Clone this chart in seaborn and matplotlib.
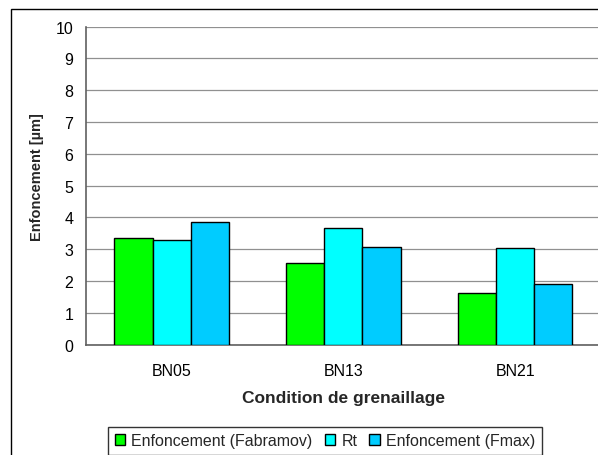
import matplotlib
matplotlib.use("Agg")
import matplotlib.pyplot as plt
from matplotlib.patches import Rectangle
import seaborn as sns
import pandas as pd

# Shot-peening conditions and measured indentation depths (µm)
conditions = ["BN05", "BN13", "BN21"]
series = ["Enfoncement (Fabramov)", "Rt", "Enfoncement (Fmax)"]
fabramov = [3.35, 2.57, 1.64]
rt = [3.30, 3.68, 3.03]
fmax = [3.86, 3.07, 1.92]
colors = ["#00FF00", "#00FFFF", "#00CCFF"]

df = pd.DataFrame({
    "condition": conditions * 3,
    "serie": [series[0]] * 3 + [series[1]] * 3 + [series[2]] * 3,
    "value": fabramov + rt + fmax,
})

sns.set_theme(style="white")
plt.rcParams["font.family"] = ["Liberation Sans", "DejaVu Sans"]

fig = plt.figure(figsize=(5.98, 4.56), dpi=100)
ax = fig.add_axes([0.1433, 0.2419, 0.862, 0.6974])

sns.barplot(data=df, x="condition", y="value", hue="serie",
            order=conditions, hue_order=series, palette=colors,
            width=0.665, edgecolor="black", linewidth=1.0,
            saturation=1, ax=ax, legend=True, zorder=3)

handles, labels = ax.get_legend_handles_labels()
ax.get_legend().remove()

ax.set_ylim(0, 10)
ax.set_xlim(-0.5, 2.5)
ax.set_yticks(range(0, 11))
ax.set_yticklabels([str(v) for v in range(0, 11)], fontsize=11.5)
ax.set_xticks(range(len(conditions)))
ax.set_xticklabels(conditions, fontsize=11.5)
ax.set_xticks([-0.5, 0.5, 1.5, 2.5], minor=True)
ax.tick_params(axis="x", which="major", length=0, pad=13, colors="black")
ax.tick_params(axis="x", which="minor", length=5, width=1, color="#606060", direction="out")
ax.tick_params(axis="y", length=5, width=1, direction="out", pad=4, colors="black")
ax.tick_params(axis="y", color="#606060")

ax.yaxis.grid(True, color="#909090", linewidth=0.9, zorder=0)
ax.set_axisbelow(True)
for side in ["top", "right"]:
    ax.spines[side].set_visible(False)
for side in ["left", "bottom"]:
    ax.spines[side].set_color("#606060")
    ax.spines[side].set_linewidth(1.2)

ax.set_xlabel("Condition de grenaillage", fontsize=12.5, fontweight="bold", labelpad=9)
ax.set_ylabel("Enfoncement [µm]", fontsize=10.5, fontweight="bold")
ax.yaxis.set_label_coords(-0.08, 0.53)

# Outer chart frame
fig.patches.append(Rectangle((11 / 598, -0.02), 1.05, 1 - 10 / 456 + 0.02,
                             transform=fig.transFigure, fill=False,
                             edgecolor="black", linewidth=1.0, zorder=0))

leg = fig.legend(handles, labels, loc="upper center",
                 bbox_to_anchor=(325 / 598, 1 - 428 / 456), ncol=3,
                 fontsize=11.5, frameon=True, fancybox=False,
                 edgecolor="black", handlelength=0.65, handleheight=0.65,
                 handletextpad=0.4, columnspacing=0.75, borderpad=0.4,
                 borderaxespad=0)
leg.get_frame().set_linewidth(1.0)

fig.savefig("out.png", dpi=100)
